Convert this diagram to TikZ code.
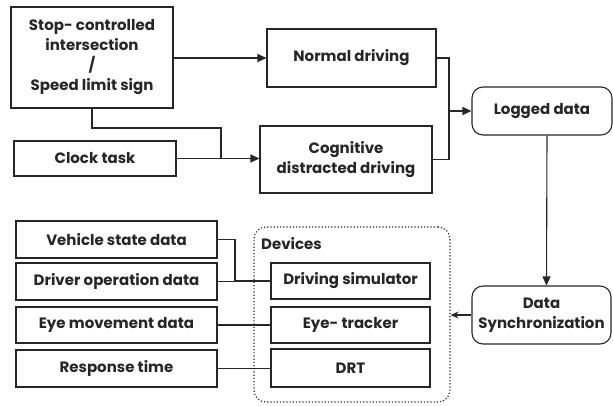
\documentclass[tikz,border=0pt]{standalone}
\usepackage{fontspec}
\setmainfont{Poppins}
\usetikzlibrary{arrows.meta}
\begin{document}
\begin{tikzpicture}[x=1pt,y=-1pt,
  txt/.style={font=\fontsize{15}{20}\selectfont\bfseries,text=black!85},
  box/.style={draw=black!85,line width=1.1pt,rectangle,inner sep=0pt,align=center,txt},
  rbox/.style={box,rounded corners=11pt},
  conn/.style={draw=black!85,line width=1.1pt},
  arr/.style={conn,-{Triangle[length=9pt,width=8pt]}},
  sarr/.style={conn,-{Stealth[length=8pt,width=7pt]}},
]
\useasboundingbox (0,0) rectangle (613,405);
% top part
\node[box,minimum width=162pt,minimum height=101pt] (stop) at (92,57.5)
  {Stop- controlled\\intersection\\/\\Speed limit sign};
\node[box,minimum width=169pt,minimum height=58pt] (normal) at (351.5,58) {Normal driving};
\node[box,minimum width=162pt,minimum height=35pt] (clock) at (95,158.5) {Clock task};
\node[box,minimum width=172pt,minimum height=67pt] (cog) at (346,159.5) {Cognitive\\distracted driving};
\node[rbox,minimum width=140pt,minimum height=48pt] (logged) at (542,111) {Logged data};
\node[rbox,minimum width=139pt,minimum height=58pt] (sync) at (541.5,315) {Data\\Synchronization};
% devices group
\node[draw=black!85,line width=1.2pt,dotted,rounded corners=12pt,minimum width=196pt,minimum height=175pt] (dev) at (352,314.5) {};
\node[anchor=west,txt,inner sep=0pt] (devlbl) at (261,244) {Devices};
\node[box,minimum width=159pt,minimum height=36pt] (sim) at (350.5,281) {Driving simulator};
\node[box,minimum width=159pt,minimum height=36pt] (eyet) at (350.5,325) {Eye- tracker};
\node[box,minimum width=159pt,minimum height=38pt] (drt) at (350.5,368) {DRT};
% left data boxes
\node[box,minimum width=201pt,minimum height=37pt] (veh) at (116.5,239.5) {Vehicle state data};
\node[box,minimum width=201pt,minimum height=37pt] (drv) at (116.5,281.5) {Driver operation data};
\node[box,minimum width=201pt,minimum height=36pt] (eyem) at (116.5,325) {Eye movement data};
\node[box,minimum width=201pt,minimum height=37pt] (resp) at (116.5,368.5) {Response time};
% coordinates
\coordinate (j1) at (221,128);
\coordinate (j2) at (221,158.5);
\coordinate (m1) at (449,58);
\coordinate (m2) at (449,159.5);
\coordinate (m3) at (449,111);
\coordinate (v1) at (235,239.5);
% connectors
\draw[arr] (stop.east |- normal.west) -- (normal.west);
\draw[conn] (stop.south) |- (j1) -- (j2);
\draw[arr] (clock.east) -- (clock.east -| cog.west);
\draw[conn] (normal.east) -- (m1) -- (m2) -- (cog.east);
\draw[arr] (m3) -- (logged.west);
\draw[arr] ([xshift=5pt]logged.south) -- ([xshift=5pt]sync.north);
\draw[sarr] (sync.west) -- (sync.west -| dev.east);
\draw[conn] (veh.east) -- (v1) |- (sim.west);
\draw[conn] (drv.east) -- (drv.east -| sim.west);
\draw[conn] (eyem.east) -- (eyet.west);
\draw[conn] (resp.east) -- (resp.east -| drt.west);
\end{tikzpicture}
\end{document}
